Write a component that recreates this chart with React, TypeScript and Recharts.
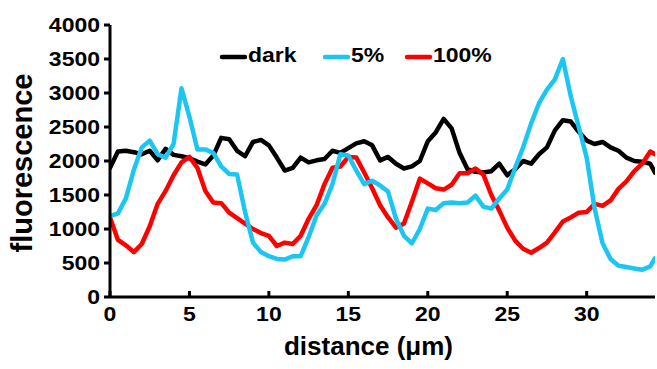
import React from 'react';
import { LineChart, Line, XAxis, YAxis, Label } from 'recharts';

const distance = [
  0, 0.5, 1, 1.5, 2, 2.5, 3, 3.5, 4, 4.5,
  5, 5.5, 6, 6.5, 7, 7.5, 8, 8.5, 9, 9.5,
  10, 10.5, 11, 11.5, 12, 12.5, 13, 13.5, 14, 14.5,
  15, 15.5, 16, 16.5, 17, 17.5, 18, 18.5, 19, 19.5,
  20, 20.5, 21, 21.5, 22, 22.5, 23, 23.5, 24, 24.5,
  25, 25.5, 26, 26.5, 27, 27.5, 28, 28.5, 29, 29.5,
  30, 30.5, 31, 31.5, 32, 32.5, 33, 33.5, 34, 34.3,
];

const dark = [
  1900, 2140, 2150, 2130, 2100, 2150, 2010, 2180, 2090, 2070,
  2040, 1990, 1950, 2080, 2340, 2320, 2150, 2070, 2280, 2310,
  2230, 2050, 1860, 1900, 2050, 1980, 2010, 2030, 2150, 2120,
  2190, 2260, 2290, 2230, 2010, 2060, 1960, 1890, 1920, 2000,
  2290, 2420, 2620, 2480, 2120, 1880, 1840, 1830, 1850, 1960,
  1790, 1880, 2000, 1960, 2100, 2200, 2450, 2600, 2580, 2430,
  2300, 2250, 2280, 2200, 2150, 2050, 2000, 1990, 1960, 1830,
];

const pct5 = [
  1190, 1230, 1450, 1870, 2200, 2300, 2100, 2050, 2250, 3070,
  2650, 2170, 2170, 2120, 1920, 1810, 1800, 1250, 800, 660,
  600, 560, 550, 600, 600, 880, 1200, 1370, 1660, 2100,
  2080, 1860, 1660, 1710, 1640, 1550, 1150, 900, 790, 1000,
  1300, 1280, 1380, 1390, 1380, 1390, 1490, 1330, 1300, 1450,
  1580, 1900, 2200, 2550, 2850, 3050, 3200, 3500, 2950, 2500,
  2050, 1300, 790, 560, 460, 440, 420, 400, 450, 570,
];

const pct100 = [
  1170, 840, 760, 660, 780, 1040, 1370, 1560, 1790, 1980,
  2060, 1900, 1560, 1390, 1380, 1240, 1160, 1080, 1000, 940,
  900, 750, 800, 780, 900, 1150, 1350, 1660, 1900, 1920,
  2060, 2050, 1830, 1600, 1350, 1170, 1020, 1080, 1400, 1740,
  1670, 1600, 1580, 1650, 1820, 1820, 1890, 1800, 1500, 1270,
  1020, 830, 710, 650, 720, 800, 950, 1110, 1170, 1240,
  1250, 1370, 1340, 1420, 1590, 1700, 1850, 1960, 2140, 2100,
];

const xTicks = [0, 5, 10, 15, 20, 25, 30];
const yTicks = [0, 500, 1000, 1500, 2000, 2500, 3000, 3500, 4000];

const seriesKeys = ['dark', 'pct5', 'pct100'];
const seriesNames = ['dark', '5%', '100%'];
const seriesColors = ['#000000', '#1CC6F2', '#FF0000'];

const rows = distance.map((d, i) => ({
  distance: d,
  dark: dark[i],
  pct5: pct5[i],
  pct100: pct100[i],
}));

const FONT = '"Liberation Sans", Arial, Helvetica, sans-serif';
const SX = 1.15;

function YTick(props: any) {
  const { x, y, payload } = props;
  return (
    <text
      transform={`translate(${x},${y}) scale(${SX},1)`}
      textAnchor="end"
      dy="0.36em"
      fontFamily={FONT}
      fontWeight="bold"
      fontSize={20}
      fill="#000"
    >
      {payload.value}
    </text>
  );
}

function XTick(props: any) {
  const { x, y, payload } = props;
  return (
    <g>
      <line x1={x} x2={x} y1={y} y2={y - 6} stroke="#000" strokeWidth={3} />
      <text
        transform={`translate(${x},${y + 23.5}) scale(${SX},1)`}
        textAnchor="middle"
        fontFamily={FONT}
        fontWeight="bold"
        fontSize={20}
        fill="#000"
      >
        {payload.value}
      </text>
    </g>
  );
}

const legendX = [222, 325, 407];

function LegendOverlay() {
  return (
    <svg
      width={657}
      height={369}
      style={{ position: 'absolute', left: 0, top: 0, pointerEvents: 'none' }}
    >
      {seriesNames.map((name, i) => (
        <g key={name}>
          <line
            x1={legendX[i]}
            x2={legendX[i] + 23}
            y1={57}
            y2={57}
            stroke={seriesColors[i]}
            strokeWidth={4.5}
            strokeLinecap="round"
          />
          <text
            transform={`translate(${legendX[i] + 26},${62}) scale(${SX},1)`}
            fontFamily={FONT}
            fontWeight="bold"
            fontSize={20}
            fill="#000"
          >
            {name}
          </text>
        </g>
      ))}
    </svg>
  );
}

export default function App() {
  return (
    <div style={{ position: 'absolute', left: 0, top: 0, width: 657, height: 369, background: '#fff' }}>
      <LineChart
        width={657}
        height={369}
        data={rows}
        margin={{ top: 25, right: 2, bottom: 12, left: 0 }}
      >
        <XAxis
          dataKey="distance"
          type="number"
          domain={[0, 34.3]}
          ticks={xTicks}
          allowDataOverflow
          height={60}
          axisLine={{ stroke: '#000', strokeWidth: 3 }}
          tickLine={false}
          tickSize={0}
          tickMargin={0}
          tick={<XTick />}
          interval={0}
        >
          <Label
            content={(p: any) => {
              const vb = p.viewBox || { x: 110, y: 297, width: 545 };
              return (
                <text
                  x={vb.x + vb.width / 2 - 14}
                  y={vb.y + 58}
                  textAnchor="middle"
                  fontFamily={FONT}
                  fontWeight="bold"
                  fontSize={26}
                  fill="#000"
                >
                  distance (μm)
                </text>
              );
            }}
          />
        </XAxis>
        <YAxis
          type="number"
          domain={[0, 4000]}
          ticks={yTicks}
          width={110}
          axisLine={{ stroke: '#000', strokeWidth: 3 }}
          tickLine={{ stroke: '#000', strokeWidth: 3 }}
          tickSize={6}
          tickMargin={4}
          tick={<YTick />}
          interval={0}
        >
          <Label
            content={(p: any) => {
              const vb = p.viewBox || { x: 0, y: 25, height: 272 };
              const cx = 32;
              const cy = vb.y + vb.height / 2 + 2;
              return (
                <text
                  transform={`translate(${cx},${cy}) rotate(-90)`}
                  textAnchor="middle"
                  fontFamily={FONT}
                  fontWeight="bold"
                  fontSize={29}
                  fill="#000"
                >
                  fluorescence
                </text>
              );
            }}
          />
        </YAxis>
        <Line
          dataKey={seriesKeys[0]}
          name={seriesNames[0]}
          stroke={seriesColors[0]}
          strokeWidth={4.5}
          strokeLinejoin="round"
          strokeLinecap="round"
          dot={false}
          type="linear"
          isAnimationActive={false}
        />
        <Line
          dataKey={seriesKeys[2]}
          name={seriesNames[2]}
          stroke={seriesColors[2]}
          strokeWidth={4.5}
          strokeLinejoin="round"
          strokeLinecap="round"
          dot={false}
          type="linear"
          isAnimationActive={false}
        />
        <Line
          dataKey={seriesKeys[1]}
          name={seriesNames[1]}
          stroke={seriesColors[1]}
          strokeWidth={4.5}
          strokeLinejoin="round"
          strokeLinecap="round"
          dot={false}
          type="linear"
          isAnimationActive={false}
        />
      </LineChart>
      <LegendOverlay />
    </div>
  );
}
